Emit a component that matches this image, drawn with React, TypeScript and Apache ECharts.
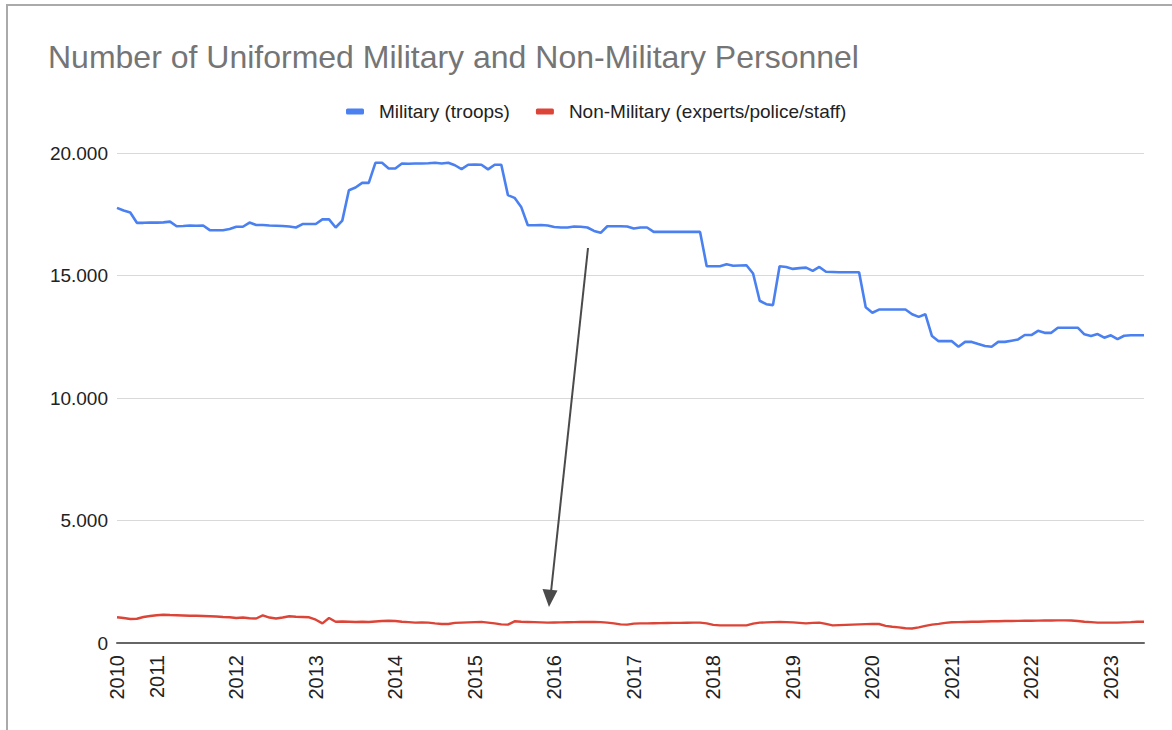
import React, { useEffect, useRef } from "react";
import * as echarts from "echarts";

const TITLE = "Number of Uniformed Military and Non-Military Personnel";
const SERIES_NAMES = ["Military (troops)", "Non-Military (experts/police/staff)"];
const START_YEAR = 2010;
const START_MONTH = 7;
const MONTH_COUNT = 156;

const categories: string[] = [];
for (let i = 0; i < MONTH_COUNT; i++) {
  const mm = START_MONTH - 1 + i;
  const y = START_YEAR + Math.floor(mm / 12);
  const m = (mm % 12) + 1;
  categories.push(`${y}-${m < 10 ? "0" + m : m}`);
}

const military = [
  17760, 17650, 17570, 17150, 17150, 17160, 17160, 17170, 17200, 17010,
  17020, 17040, 17030, 17040, 16850, 16850, 16850, 16900, 16990, 16990,
  17160, 17060, 17060, 17040, 17030, 17020, 17000, 16960, 17100, 17100,
  17100, 17290, 17290, 16960, 17240, 18480, 18590, 18780, 18780, 19600,
  19600, 19370, 19370, 19570, 19560, 19570, 19570, 19580, 19600, 19570,
  19600, 19500, 19340, 19520, 19530, 19520, 19330, 19520, 19520, 18280,
  18170, 17800, 17050, 17050, 17060, 17040, 16980, 16960, 16960, 17000,
  16990, 16960, 16820, 16740, 17010, 17010, 17010, 17000, 16920, 16960,
  16960, 16780, 16780, 16780, 16780, 16780, 16780, 16780, 16780, 15380,
  15380, 15380, 15460, 15400, 15410, 15420, 15080, 13970, 13830, 13790,
  15380, 15350, 15270, 15300, 15320, 15190, 15350, 15150, 15140, 15130,
  15130, 15130, 15130, 13700, 13480, 13610, 13610, 13610, 13610, 13610,
  13420, 13310, 13420, 12530, 12320, 12320, 12320, 12090, 12290, 12290,
  12200, 12120, 12090, 12290, 12290, 12340, 12390, 12570, 12570, 12740,
  12660, 12660, 12870, 12870, 12870, 12870, 12600, 12530, 12610, 12460,
  12560, 12400, 12540, 12560, 12560, 12560,
];

const nonMilitary = [
  1050, 1020, 980, 990, 1060, 1100, 1130, 1155, 1140, 1130,
  1120, 1110, 1110, 1100, 1090, 1080, 1060, 1050, 1020, 1040,
  1010, 1000, 1130, 1040, 1000, 1040, 1090, 1070, 1060, 1050,
  950, 800, 1020, 870, 880, 870, 860, 870, 860, 880,
  900, 910, 900, 870, 850, 830, 840, 830, 800, 775,
  775, 820, 830, 840, 850, 860, 830, 800, 760, 750,
  885, 870, 860, 850, 840, 830, 835, 840, 845, 850,
  855, 860, 860, 850, 830, 800, 760, 750, 790, 800,
  800, 805, 810, 815, 820, 820, 825, 830, 830, 800,
  740, 720, 720, 720, 720, 720, 790, 830, 840, 850,
  860, 850, 840, 820, 800, 820, 830, 780, 720, 730,
  740, 750, 760, 770, 775, 775, 700, 665, 640, 600,
  590, 640, 700, 750, 780, 820, 845, 850, 860, 865,
  870, 880, 885, 890, 895, 900, 905, 910, 910, 915,
  920, 920, 925, 925, 920, 900, 870, 850, 830, 830,
  830, 830, 840, 850, 870, 870,
];

const Y_MAX = 20000;
const Y_INTERVAL = 5000;

const fmt = (v: number) => String(v).replace(/\B(?=(\d{3})+(?!\d))/g, ".");

export default function App() {
  const ref = useRef<HTMLDivElement>(null);
  useEffect(() => {
    if (!ref.current) return;
    const chart = echarts.init(ref.current, undefined, { renderer: "svg" });
    const font = "Liberation Sans, Arial, sans-serif";
    chart.setOption({
      animation: false,
      backgroundColor: "#ffffff",
      textStyle: { fontFamily: font },
      title: {
        text: TITLE,
        left: 43,
        top: 36,
        textStyle: { fontSize: 32, fontWeight: "normal", color: "#757575", fontFamily: font },
      },
      legend: {
        top: 97,
        left: 341,
        itemWidth: 18,
        itemHeight: 6,
        itemGap: 26,
        icon: "roundRect",
        textStyle: { fontSize: 19, color: "#222", fontFamily: font, padding: [0, 0, 0, 10] },
        data: SERIES_NAMES,
      },
      grid: { left: 117, right: 28, top: 153, bottom: 87, containLabel: false },
      xAxis: {
        type: "category",
        data: categories,
        boundaryGap: false,
        axisLine: { lineStyle: { color: "#666", width: 2 } },
        axisTick: { show: false },
        axisLabel: {
          rotate: 90,
          margin: 12,
          fontSize: 20,
          color: "#222",
          fontFamily: font,
          interval: (index: number, value: string) => index === 0 || value.endsWith("-01"),
          formatter: (value: string) => value.slice(0, 4),
        },
        splitLine: { show: false },
      },
      yAxis: {
        type: "value",
        min: 0,
        max: Y_MAX,
        interval: Y_INTERVAL,
        axisLine: { show: false },
        axisTick: { show: false },
        axisLabel: { fontSize: 19, color: "#222", margin: 9, fontFamily: font, formatter: (v: number) => fmt(v) },
        splitLine: { lineStyle: { color: "#d9d9d9", width: 1 } },
      },
      series: [
        {
          name: SERIES_NAMES[0],
          type: "line",
          data: military,
          showSymbol: false,
          symbol: "none",
          color: "#4a80f0",
          lineStyle: { width: 2.6, color: "#4a80f0" },
          z: 3,
        },
        {
          name: SERIES_NAMES[1],
          type: "line",
          data: nonMilitary,
          showSymbol: false,
          symbol: "none",
          color: "#dc4437",
          lineStyle: { width: 2.4, color: "#dc4437" },
          z: 2,
        },
      ],
      graphic: [
        {
          type: "rect",
          shape: { x: 7, y: 5, width: 1400, height: 1000 },
          style: { fill: "none", stroke: "#aaaaaa", lineWidth: 2 },
          silent: true,
        },
        {
          type: "line",
          shape: { x1: 588, y1: 248, x2: 551, y2: 592 },
          style: { stroke: "#4a4a4a", lineWidth: 2 },
          silent: true,
          z: 10,
        },
        {
          type: "polygon",
          shape: { points: [[549, 607], [542.5, 589], [557.5, 590.5]] },
          style: { fill: "#4a4a4a" },
          silent: true,
          z: 10,
        },
      ],
    });
    return () => chart.dispose();
  }, []);
  return (
    <div
      ref={ref}
      style={{ position: "absolute", left: 0, top: 0, width: 1172, height: 730 }}
    />
  );
}
